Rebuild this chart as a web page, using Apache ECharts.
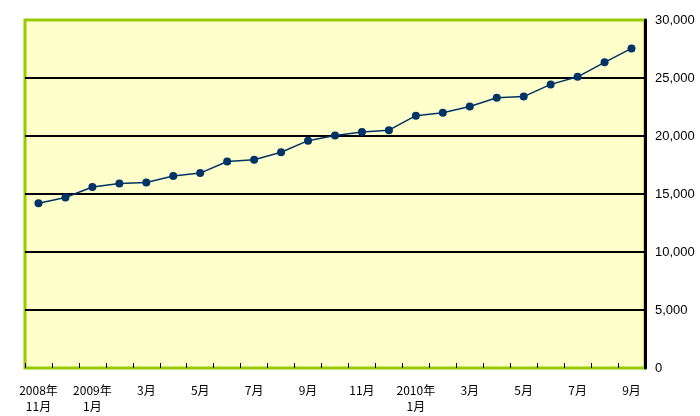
<!DOCTYPE html>
<html><head><meta charset="utf-8">
<script src="https://cdn.jsdelivr.net/npm/echarts@6/dist/echarts.min.js"></script>
<style>html,body{margin:0;padding:0;background:#fff}#c{width:700px;height:416px}</style>
</head><body><div id="c"></div>
<script>
var categories = ['2008年\n11月','12月','2009年\n1月','2月','3月','4月','5月','6月','7月','8月','9月','10月','11月','12月','2010年\n1月','2月','3月','4月','5月','6月','7月','8月','9月'];
var values = [14200,14700,15600,15900,16000,16550,16800,17800,17950,18600,19600,20050,20350,20500,21750,22000,22550,23300,23400,24450,25100,26350,27550];
var yMin = 0, yMax = 30000, yStep = 5000;

var chart = echarts.init(document.getElementById('c'));
chart.setOption({
  animation: false,
  backgroundColor: '#ffffff',
  grid: {left: 25, right: 55, top: 20, bottom: 48, show: true, backgroundColor: '#FFFFCC', borderColor: '#99CC00', borderWidth: 3},
  xAxis: {
    type: 'category', data: categories, boundaryGap: true,
    axisLine: {show: false},
    axisTick: {show: true, inside: true, length: 5, interval: 0, lineStyle: {color: '#000', width: 1}},
    axisLabel: {interval: 1, color: '#000', fontSize: 12, margin: 14, lineHeight: 16,
      fontFamily: '"Noto Sans CJK JP", sans-serif'}
  },
  yAxis: {
    type: 'value', position: 'right', min: yMin, max: yMax, interval: yStep,
    axisLine: {show: true, lineStyle: {color: '#000', width: 3}},
    axisTick: {show: false},
    axisLabel: {color: '#000', fontSize: 13, margin: 10, fontFamily: '"Liberation Sans", Arial, sans-serif',
      formatter: function(v){ return v.toLocaleString('en-US'); }},
    splitLine: {show: true, showMinLine: false, showMaxLine: false, lineStyle: {color: '#000', width: 2}}
  },
  series: [{
    type: 'line', data: values, symbol: 'circle', symbolSize: 8,
    itemStyle: {color: '#003366'},
    lineStyle: {color: '#003366', width: 1.5}
  }]
});
</script></body></html>
